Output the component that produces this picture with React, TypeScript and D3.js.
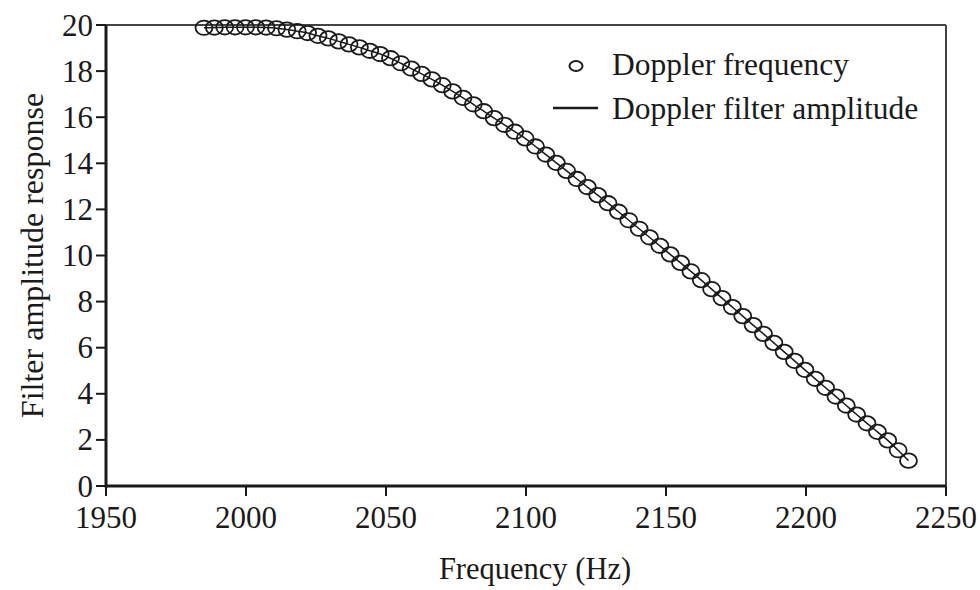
import React from "react";
import * as d3 from "d3";

const freqs = [
  1985.0, 1988.7, 1992.4, 1996.1, 1999.8, 2003.5, 2007.2, 2010.9, 2014.6, 2018.3,
  2022.0, 2025.7, 2029.4, 2033.1, 2036.8, 2040.5, 2044.2, 2047.9, 2051.6, 2055.3,
  2059.0, 2062.7, 2066.4, 2070.1, 2073.8, 2077.5, 2081.2, 2084.9, 2088.6, 2092.3,
  2096.0, 2099.7, 2103.4, 2107.1, 2110.8, 2114.5, 2118.2, 2121.9, 2125.6, 2129.3,
  2133.0, 2136.7, 2140.4, 2144.1, 2147.8, 2151.5, 2155.2, 2158.9, 2162.6, 2166.3,
  2170.0, 2173.7, 2177.4, 2181.1, 2184.8, 2188.5, 2192.2, 2195.9, 2199.6, 2203.3,
  2207.0, 2210.7, 2214.4, 2218.1, 2221.8, 2225.5, 2229.2, 2232.9, 2236.6,
];

const amplitude = [
  19.88, 19.89, 19.9, 19.9, 19.9, 19.9, 19.89, 19.86, 19.8, 19.73,
  19.65, 19.53, 19.42, 19.29, 19.16, 19.03, 18.88, 18.74, 18.56, 18.34,
  18.11, 17.88, 17.64, 17.39, 17.12, 16.84, 16.56, 16.26, 15.96, 15.67,
  15.37, 15.08, 14.73, 14.38, 14.02, 13.67, 13.32, 12.97, 12.62, 12.27,
  11.9, 11.53, 11.16, 10.79, 10.42, 10.05, 9.68, 9.31, 8.93, 8.54,
  8.15, 7.76, 7.37, 6.98, 6.6, 6.21, 5.82, 5.43, 5.04, 4.65,
  4.26, 3.88, 3.49, 3.1, 2.72, 2.35, 1.98, 1.55, 1.1,
];

const xTicks = [1950, 2000, 2050, 2100, 2150, 2200, 2250];
const yTicks = [0, 2, 4, 6, 8, 10, 12, 14, 16, 18, 20];
const legendLabels = ["Doppler frequency", "Doppler filter amplitude"];

const W = 980;
const H = 590;
const L = 106, R = 946, T = 25, B = 486;
const FONT = "'Liberation Serif', 'Times New Roman', serif";
const INK = "#1a1a1a";

export default function App() {
  const x = d3.scaleLinear().domain([1950, 2250]).range([L, R]);
  const y = d3.scaleLinear().domain([0, 20]).range([B, T]);
  const pts = freqs.map((f, i) => [f, amplitude[i]] as [number, number]);
  const line = d3
    .line<[number, number]>()
    .x((d) => x(d[0]))
    .y((d) => y(d[1]))
    .curve(d3.curveMonotoneX);

  return (
    <svg width={W} height={H} style={{ position: "absolute", left: 0, top: 0, background: "#fff" }}>
      <line x1={L} x2={R} y1={T} y2={T} stroke="#444" strokeWidth={2} />
      <line x1={R} x2={R} y1={T} y2={B} stroke="#444" strokeWidth={2} />
      <path d={line(pts) || ""} fill="none" stroke={INK} strokeWidth={1.5} />
      {pts.map((d, i) => (
        <ellipse
          key={i}
          cx={x(d[0])}
          cy={y(d[1])}
          rx={8.5}
          ry={7.2}
          fill="none"
          stroke={INK}
          strokeWidth={1.8}
        />
      ))}
      <line x1={L} x2={R} y1={B} y2={B} stroke={INK} strokeWidth={3} />
      <line x1={L} x2={L} y1={T} y2={B + 1.5} stroke={INK} strokeWidth={3} />
      {yTicks.map((t) => (
        <g key={"y" + t}>
          <line x1={L - 10} x2={L} y1={y(t)} y2={y(t)} stroke={INK} strokeWidth={2} />
          <text
            x={L - 13}
            y={y(t)}
            dy="0.34em"
            textAnchor="end"
            fontFamily={FONT}
            fontSize={31}
            fill={INK}
          >
            {t}
          </text>
        </g>
      ))}
      {xTicks.map((t) => (
        <g key={"x" + t}>
          <line x1={x(t)} x2={x(t)} y1={B} y2={B + 10} stroke={INK} strokeWidth={2} />
          <text
            x={x(t)}
            y={B + 42}
            textAnchor="middle"
            fontFamily={FONT}
            fontSize={31}
            fill={INK}
          >
            {t}
          </text>
        </g>
      ))}
      <text x={535} y={579} textAnchor="middle" fontFamily={FONT} fontSize={30.5} fill={INK}>
        Frequency (Hz)
      </text>
      <text
        transform={`translate(43, ${(T + B) / 2}) rotate(-90)`}
        textAnchor="middle"
        fontFamily={FONT}
        fontSize={32}
        fill={INK}
      >
        Filter amplitude response
      </text>
      <ellipse cx={576} cy={66} rx={6.5} ry={5} fill="none" stroke={INK} strokeWidth={2} />
      <text x={612} y={75} fontFamily={FONT} fontSize={31.5} fill={INK}>
        {legendLabels[0]}
      </text>
      <line x1={553} x2={598} y1={108} y2={108} stroke={INK} strokeWidth={2.5} />
      <text x={612} y={119} fontFamily={FONT} fontSize={31.5} fill={INK}>
        {legendLabels[1]}
      </text>
    </svg>
  );
}
